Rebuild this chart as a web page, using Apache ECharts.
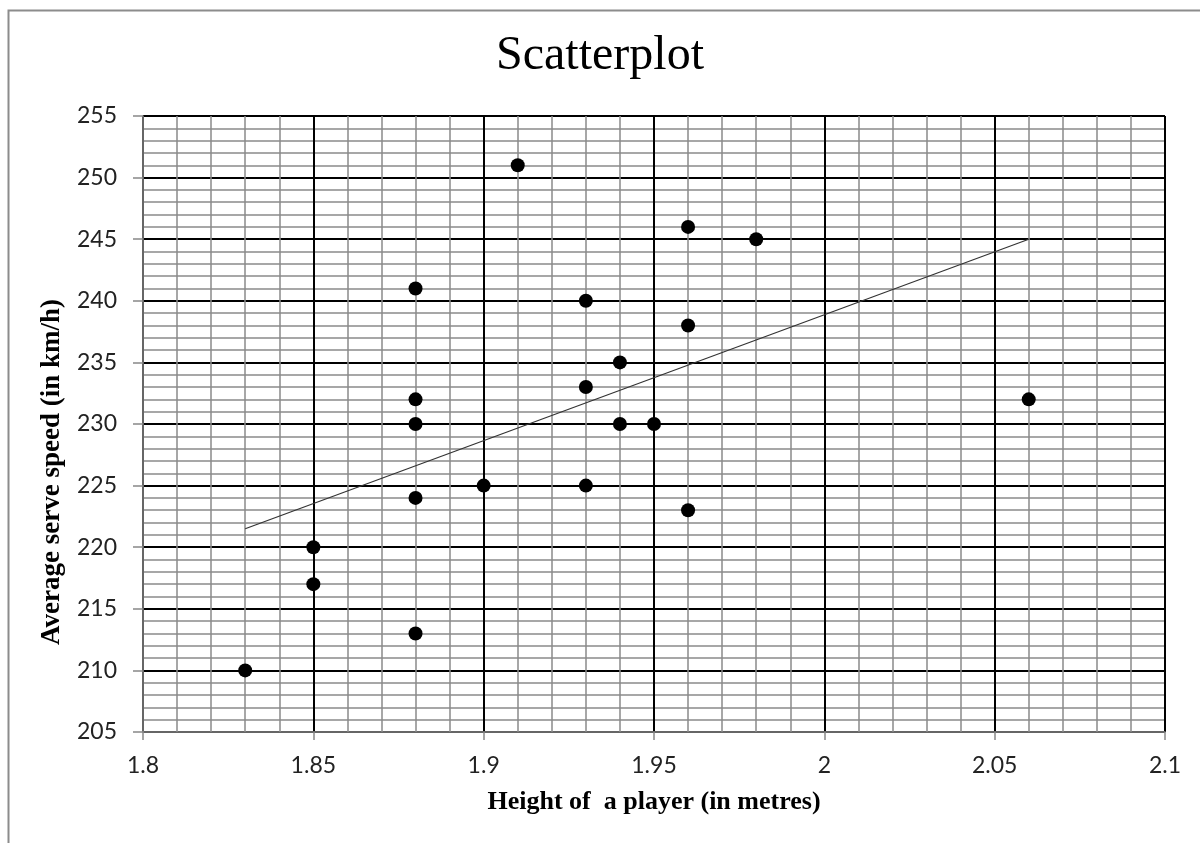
<!DOCTYPE html>
<html>
<head>
<meta charset="utf-8">
<script src="https://cdn.jsdelivr.net/npm/echarts@6/dist/echarts.min.js"></script>
<style>
  html, body { margin: 0; padding: 0; background: #fff; }
  #chart { width: 1200px; height: 843px; }
</style>
</head>
<body>
<div id="chart"></div>
<script>
// player heights (m) and average serve speed (km/h)
var heights = [1.83, 1.85, 1.85, 1.88, 1.88, 1.88, 1.88, 1.88, 1.90, 1.91, 1.93,
               1.93, 1.93, 1.94, 1.94, 1.95, 1.96, 1.96, 1.96, 1.98, 2.06];
var speeds  = [210, 220, 217, 241, 232, 230, 224, 213, 225, 251, 240,
               233, 225, 235, 230, 230, 246, 238, 223, 245, 232];
// trend line end points
var trendX = [1.83, 2.06];
var trendY = [221.5, 245];

var points = heights.map(function (h, i) { return [h, speeds[i]]; });
var trend = trendX.map(function (x, i) { return [x, trendY[i]]; });

var myChart = echarts.init(document.getElementById('chart'));
var option = {
  backgroundColor: '#fff',
  animation: false,
  title: {
    text: 'Scatterplot',
    left: 'center',
    top: 27,
    textStyle: { fontFamily: 'Liberation Serif', fontSize: 48, fontWeight: 'normal', color: '#000' }
  },
  graphic: [{
    type: 'rect',
    shape: { x: 8.5, y: 10.5, width: 1300, height: 900 },
    style: { fill: 'none', stroke: '#8c8c8c', lineWidth: 2 },
    silent: true
  }, {
    // y axis title sits a bit below the axis centre in the original
    type: 'text',
    x: 52, y: 472,
    rotation: Math.PI / 2,
    style: {
      text: 'Average serve speed (in km/h)',
      fontFamily: 'Liberation Serif', fontSize: 27, fontWeight: 'bold', fill: '#000',
      align: 'center', verticalAlign: 'middle'
    },
    silent: true
  }],
  grid: { left: 143, right: 35, top: 116, bottom: 111 },
  xAxis: {
    type: 'value',
    min: 1.8, max: 2.1, interval: 0.05,
    name: 'Height of  a player (in metres)',
    nameLocation: 'middle',
    nameGap: 57,
    nameTextStyle: { fontFamily: 'Liberation Serif', fontSize: 26, fontWeight: 'bold', color: '#000', verticalAlign: 'top' },
    axisLine: { show: true, lineStyle: { color: '#888', width: 1.5 } },
    axisTick: { show: true, length: 8, inside: false, lineStyle: { color: '#888', width: 1.5 } },
    axisLabel: { margin: 22, fontFamily: 'Lato', fontSize: 23, color: '#222' },
    splitLine: { show: true, lineStyle: { color: '#000', width: 2 } },
    minorTick: { show: false, splitNumber: 5 },
    minorSplitLine: { show: true, lineStyle: { color: '#8a8a8a', width: 1.5 } }
  },
  yAxis: {
    type: 'value',
    min: 205, max: 255, interval: 5,
    axisLine: { show: true, lineStyle: { color: '#888', width: 1.5 } },
    axisTick: { show: true, length: 10, lineStyle: { color: '#888', width: 1.5 } },
    axisLabel: { margin: 26, fontFamily: 'Lato', fontSize: 23, color: '#222' },
    splitLine: { show: true, lineStyle: { color: '#000', width: 2 } },
    minorTick: { show: false, splitNumber: 5 },
    minorSplitLine: { show: true, lineStyle: { color: '#8a8a8a', width: 1.5 } }
  },
  series: [{
    name: 'trend',
    type: 'line',
    data: trend,
    symbol: 'none',
    lineStyle: { color: '#333', width: 1.2 },
    z: 3
  }, {
    name: 'players',
    type: 'scatter',
    data: points,
    symbol: 'circle',
    symbolSize: 14,
    itemStyle: { color: '#000', opacity: 1 },
    z: 4
  }]
};
myChart.setOption(option);
</script>
</body>
</html>
